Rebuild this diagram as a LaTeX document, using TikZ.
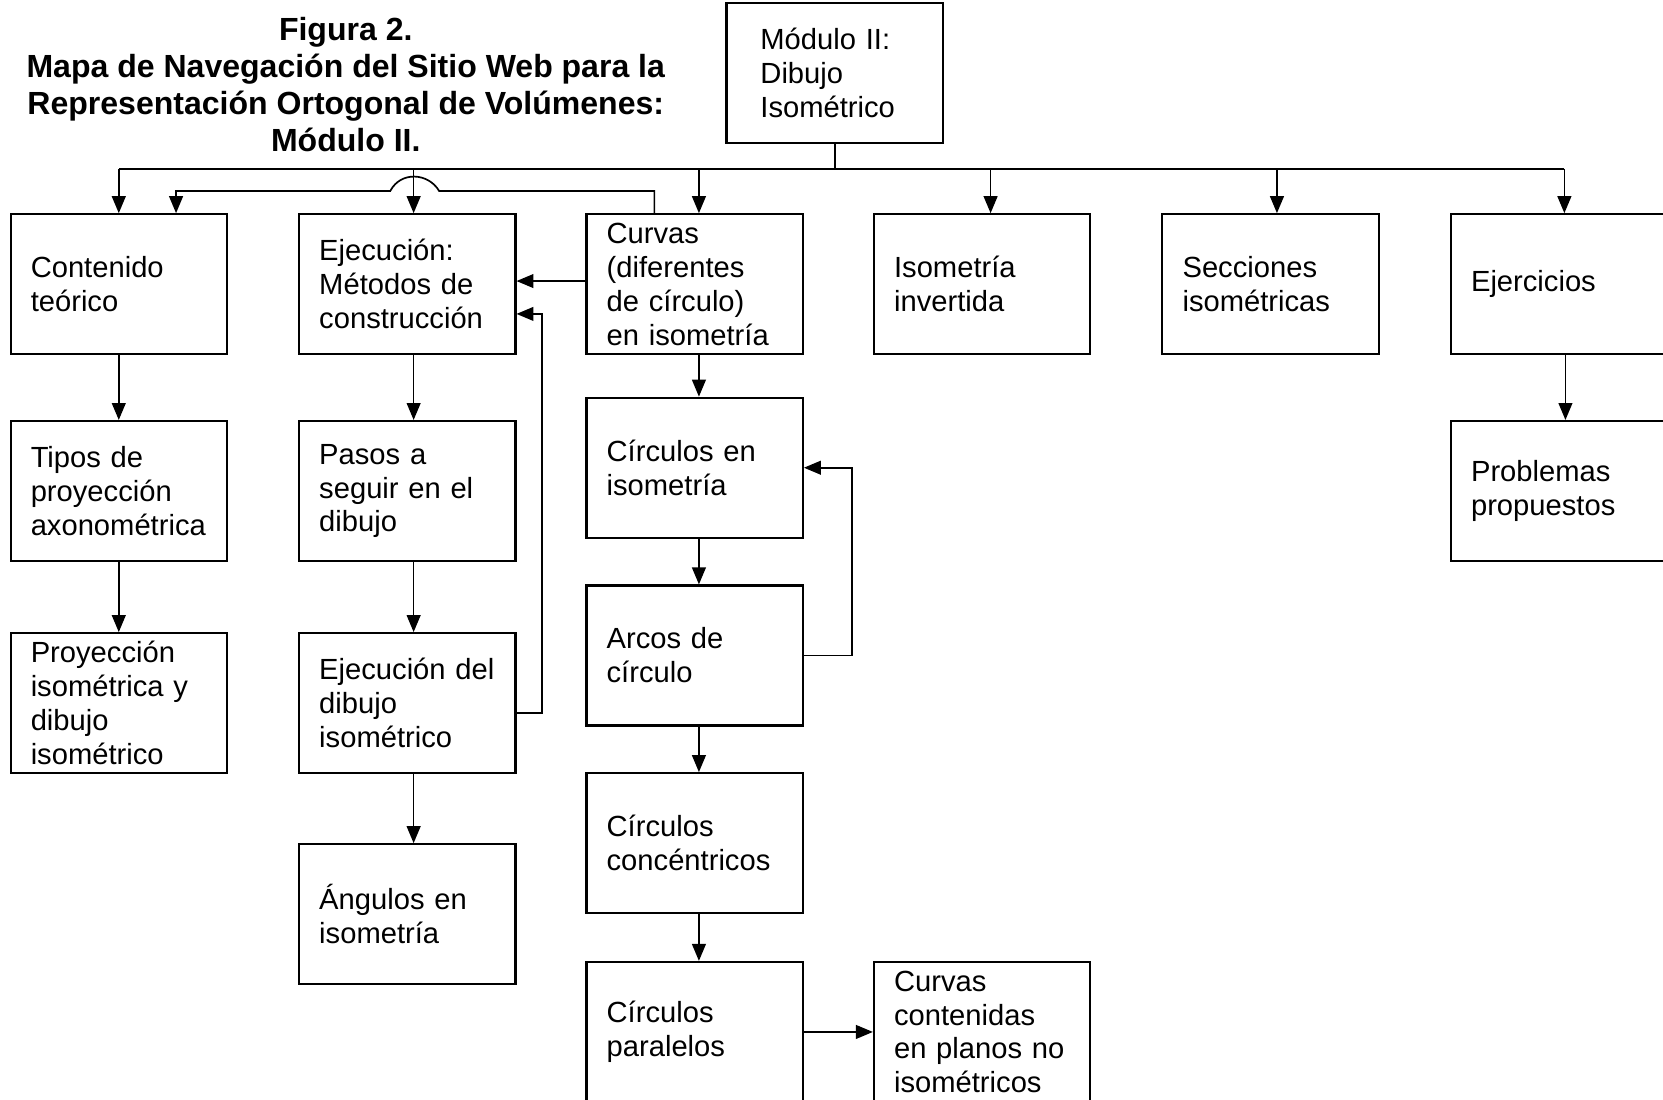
\documentclass[tikz,border=0pt]{standalone}
\usepackage{fontspec}
\setmainfont{Liberation Sans}
\usetikzlibrary{arrows.meta}
\begin{document}
\begin{tikzpicture}[x=0.5pt,y=-0.5pt,
  box/.style={draw, line width=1pt, anchor=north west, minimum width=102pt, minimum height=66pt,
    text width=83pt, inner xsep=9.5pt, align=left, font=\fontsize{13.75}{16}\selectfont},
  arr/.style={line width=0.8pt, -{Triangle[length=8pt,width=6.5pt]}},
  ln/.style={line width=0.8pt},
  ttl/.style={font=\bfseries\fontsize{15.1}{17.5}\selectfont, align=center}]
\useasboundingbox (0,0) rectangle (1568,1037);
\clip (0,0) rectangle (1568,1037);
% title
\node[ttl] (title) at (326,80) {Figura 2.\\Mapa de Navegación del Sitio Web para la\\Representación Ortogonal de Volúmenes:\\Módulo II.};
% boxes
\node[box, text width=70pt, inner xsep=16pt] (mod) at (684,2) {Módulo~II:\\Dibujo\\Isométrico};
\node[box] (cont) at (9,201) {Contenido\\teórico};
\node[box] (ejec) at (281,201) {Ejecución:\\Métodos~de\\construcción};
\node[box] (curv) at (552,201) {Curvas\\(diferentes\\de~círculo)\\en~isometría};
\node[box] (isoi) at (823,201) {Isometría\\invertida};
\node[box] (secc) at (1095,201) {Secciones\\isométricas};
\node[box] (ejer) at (1367,201) {Ejercicios};
\node[box] (tipo) at (9,396) {Tipos~de\\proyección\\axonométrica};
\node[box] (proy) at (9,596) {Proyección\\isométrica~y\\dibujo\\isométrico};
\node[box] (paso) at (281,396) {Pasos~a\\seguir~en~el\\dibujo};
\node[box] (ejd) at (281,596) {Ejecución~del\\dibujo\\isométrico};
\node[box] (ang) at (281,795) {Ángulos~en\\isometría};
\node[box] (cis) at (552,374) {Círculos~en\\isometría};
\node[box] (arco) at (552,551) {Arcos~de\\círculo};
\node[box] (conc) at (552,728) {Círculos\\concéntricos};
\node[box] (para) at (552,906) {Círculos\\paralelos};
\node[box] (ccn) at (823,906) {Curvas\\contenidas\\en~planos~no\\isométricos};
\node[box] (prob) at (1367,396) {Problemas\\propuestos};
% bus
\coordinate (busL) at (112,159);
\coordinate (busR) at (1475,159);
\draw[ln, line width=1pt] (mod.south) -- (mod.south |- busL);
\draw[ln, line width=1pt] (busL) -- (busR);
\draw[arr] (busL) -- (busL |- cont.north);
\draw[arr] ([xshift=3pt]ejec.north |- busL) -- ([xshift=3pt]ejec.north);
\draw[arr] ([xshift=2pt]curv.north |- busL) -- ([xshift=2pt]curv.north);
\draw[arr] ([xshift=4pt]isoi.north |- busL) -- ([xshift=4pt]isoi.north);
\draw[arr] ([xshift=3pt]secc.north |- busL) -- ([xshift=3pt]secc.north);
\draw[arr] (busR) -- (busR |- ejer.north);
% Curvas -> Contenido with jump
\coordinate (jr) at (414,180);
\coordinate (jl) at (368,180);
\draw[arr] ([xshift=-19pt]curv.north) |- (jr) .. controls (404,163) and (378,161) .. (jl) -| ([xshift=27pt]cont.north);
% column 1
\draw[arr] (cont.south) -- (tipo.north);
\draw[arr] (tipo.south) -- (proy.north);
% column 2
\draw[arr] ([xshift=3pt]ejec.south) -- ([xshift=3pt]paso.north);
\draw[arr] ([xshift=3pt]paso.south) -- ([xshift=3pt]ejd.north);
\draw[arr] ([xshift=3pt]ejd.south) -- ([xshift=3pt]ang.north);
\draw[arr] ([yshift=-4.5pt]ejd.east) -- ++(12pt,0) |- ([yshift=-14pt]ejec.east);
\draw[arr] ([yshift=1.5pt]curv.west) -- ([yshift=1.5pt]ejec.east);
% column 3
\draw[arr] ([xshift=2pt]curv.south) -- ([xshift=2pt]cis.north);
\draw[arr] ([xshift=2pt]cis.south) -- ([xshift=2pt]arco.north);
\draw[arr] ([xshift=2pt]arco.south) -- ([xshift=2pt]conc.north);
\draw[arr] ([xshift=2pt]conc.south) -- ([xshift=2pt]para.north);
\draw[arr] (arco.east) -- ++(22.5pt,0) |- (cis.east);
\draw[arr] (para.east) -- (ccn.west);
% column 6
\draw[arr] ([xshift=3pt]ejer.south) -- ([xshift=3pt]prob.north);
\end{tikzpicture}
\end{document}
